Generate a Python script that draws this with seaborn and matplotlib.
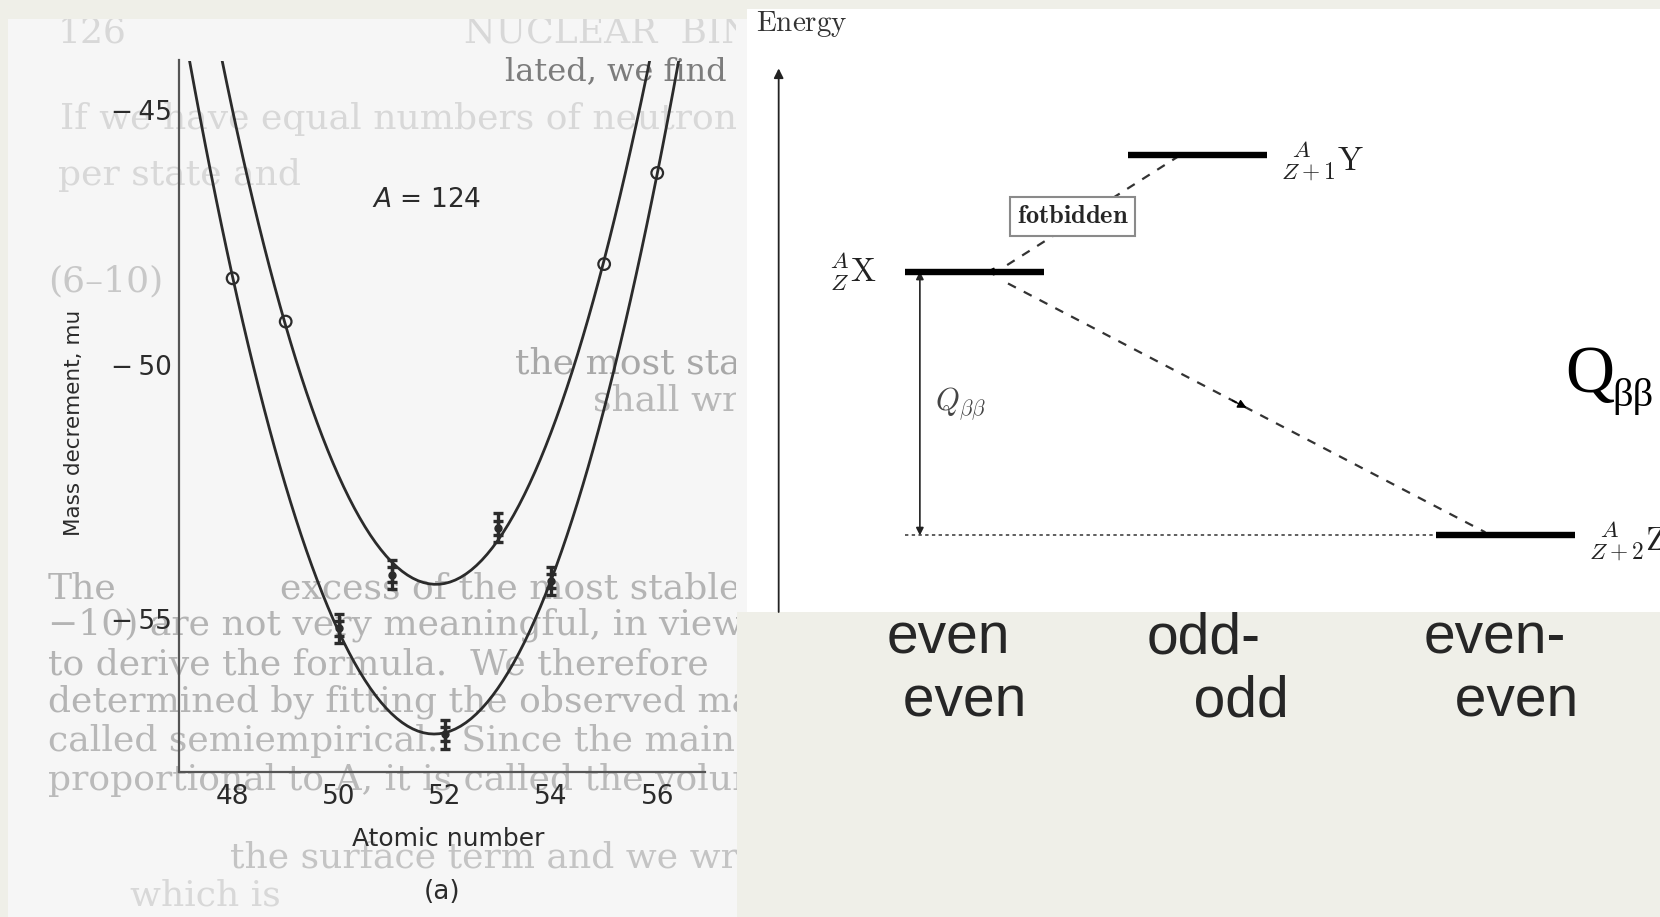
import numpy as np
import pandas as pd
import matplotlib
matplotlib.use("Agg")
import matplotlib.pyplot as plt
from matplotlib.patches import Rectangle
import seaborn as sns

# ---- A = 124 isobars: mass decrement vs atomic number ----
z_even = [48, 50, 52, 54, 56]
m_even = [-48.30, -55.18, -57.26, -54.25, -46.23]
z_odd = [49, 51, 53, 55]
m_odd = [-49.15, -54.12, -53.20, -48.02]
open_z = [48, 49, 55, 56]          # drawn as open circles
stack_z = [50, 51, 52, 53, 54]     # drawn as stacked symbols

x_ticks = [48, 50, 52, 54, 56]
y_ticks = [-45, -50, -55]
y_tick_labels = ["\u2212\u200945", "\u2212\u200950", "\u2212\u200955"]

# ---- double-beta decay level scheme ----
level_names = [r"${}^{A}_{Z}\mathrm{X}$", r"${}^{\;\;A}_{Z+1}\mathrm{Y}$",
               r"${}^{\;\;A}_{Z+2}\mathrm{Z}$"]
level_slot = [1.0, 2.0, 3.38]
level_energy = [1.0, 1.44, 0.0]
parity_labels = ["even\n even", "odd-\n   odd", "even-\n  even"]

# ---- printed page text around the chart (x, y in page pixels, size) ----
FAINT, MID, DARK = "#d8d8d8", "#b4b4b4", "#7c7c7c"
page_lines = [
    (58, 32, "126", FAINT, 26),
    (464, 32, "NUCLEAR  BINDI", FAINT, 26),
    (505, 72, "lated, we find", DARK, 23),
    (60, 119, "If we have equal numbers of neutrons a", FAINT, 26),
    (58, 175, "per state and", FAINT, 26),
    (48, 281, "(6\u201310)", "#c8c8c8", 26),
    (515, 363, "the most stable isobar", "#a8a8a8", 26),
    (593, 400, "shall write", "#b8b8b8", 26),
    (48, 588, "The", MID, 26),
    (280, 588, "excess of the most stable isobar.", MID, 26),
    (48, 625, "\u221210) are not very meaningful, in view", MID, 26),
    (48, 664, "to derive the formula.  We therefore", MID, 26),
    (48, 702, "determined by fitting the observed masses.", MID, 26),
    (48, 741, "called semiempirical.  Since the main", "#b8b8b8", 26),
    (48, 780, "proportional to A, it is called the volume", "#bababa", 26),
    (230, 857, "the surface term and we write", "#c4c4c4", 26),
    (130, 895, "which is", FAINT, 26),
]

W, H = 1660, 917
BEIGE = "#efefe8"
PAGE = "#f6f6f6"
INK = "#2b2b2b"

sns.set_theme(style="white")
plt.rcParams["font.family"] = ["DejaVu Sans"]
plt.rcParams["mathtext.fontset"] = "cm"

fig = plt.figure(figsize=(W / 100, H / 100), dpi=100)
fig.patch.set_facecolor(BEIGE)


def box(x0, y0, x1, y1):
    """Figure-fraction rectangle from a top-left-origin pixel box."""
    return [x0 / W, 1 - y1 / H, (x1 - x0) / W, (y1 - y0) / H]


# scanned page behind the left chart
axP = fig.add_axes(box(8, 19, 737, H))
axP.set_zorder(0)
axP.set_facecolor(PAGE)
axP.set_xlim(8, 737)
axP.set_ylim(H, 19)
axP.set_xticks([])
axP.set_yticks([])
for sp in axP.spines.values():
    sp.set_visible(False)
for px, py, s, c, fs in page_lines:
    axP.text(px, py, s, color=c, fontsize=fs, va="center", ha="left",
             family="DejaVu Serif", clip_on=True)
# strip of page between the chart page and the white sheet
fig.add_artist(Rectangle((736 / W, 1 - 612 / H), 12 / W, (612 - 19) / H,
                         transform=fig.transFigure, facecolor=PAGE,
                         edgecolor="none", zorder=0.5))

# white sheet for the level scheme
fig.add_artist(Rectangle((747 / W, 1 - 612 / H), (W - 747) / W, (612 - 8.5) / H,
                         transform=fig.transFigure, facecolor="white",
                         edgecolor="none", zorder=1.5))

# ---------------- left chart ----------------
axL = fig.add_axes(box(179, 60.5, 705, 772))
axL.set_zorder(1)
axL.set_facecolor("none")
axL.set_xlim(46.99, 56.9)
axL.set_ylim(-58.0, -44.02)

df_even = pd.DataFrame({"Z": z_even, "M": m_even})
df_odd = pd.DataFrame({"Z": z_odd, "M": m_odd})
df_all = pd.concat([df_even, df_odd]).sort_values("Z")

for df in (df_even, df_odd):
    sns.regplot(data=df, x="Z", y="M", order=2, ci=None, scatter=False,
                truncate=False, ax=axL,
                line_kws=dict(color=INK, lw=2.0, solid_capstyle="butt"))

opn = df_all[df_all["Z"].isin(open_z)]
sns.scatterplot(data=opn, x="Z", y="M", ax=axL, marker="o", s=70,
                facecolor="none", edgecolor=INK, linewidth=1.6, zorder=5)

stk = df_all[df_all["Z"].isin(stack_z)]
axL.errorbar(stk["Z"], stk["M"], yerr=0.28, fmt="o", ms=5, color=INK,
             ecolor=INK, elinewidth=2.4, capsize=3.5, capthick=2.4, zorder=5)
axL.errorbar(stk["Z"], stk["M"], yerr=0.14, fmt="none", ecolor=INK,
             elinewidth=2.4, capsize=3.5, capthick=2.4, zorder=5)

axL.set_xlim(46.99, 56.9)
axL.set_ylim(-58.0, -44.02)
axL.set_xticks(x_ticks)
axL.set_yticks(y_ticks)
axL.set_yticklabels(y_tick_labels)
for side in ("top", "right"):
    axL.spines[side].set_visible(False)
for side in ("left", "bottom"):
    axL.spines[side].set_color("#555555")
    axL.spines[side].set_linewidth(1.6)
axL.tick_params(axis="x", direction="in", length=11.5, width=1.5,
                color="#555555", labelsize=19, labelcolor=INK, pad=9)
axL.tick_params(axis="y", direction="in", length=8, width=1.5,
                color="#555555", labelsize=19, labelcolor=INK, pad=5)
axL.set_xlabel("Atomic number", fontsize=18, color=INK)
axL.set_ylabel("Mass decrement, mu", fontsize=15.5, color=INK)
axL.xaxis.set_label_coords(0.511, -0.078)
axL.yaxis.set_label_coords(-0.18, 0.49)
axL.text(51.66, -46.77, r"$A$ = 124", fontsize=19, color=INK,
         ha="center", va="center", math_fontfamily="dejavusans")
fig.text(442 / W, 1 - 892 / H, "(a)", fontsize=19, color=INK,
         ha="center", va="center", zorder=3)

# ---------------- level scheme ----------------
axR = fig.add_axes(box(747, 8.5, W, 612))
axR.set_zorder(2)
axR.set_facecolor("none")
axR.set_xlim(-0.02, 4.073)
axR.set_ylim(-0.29, 1.997)
axR.axis("off")

half = 0.31
axR.hlines(level_energy, [s - half for s in level_slot],
           [s + half for s in level_slot], color="black", lw=4.6, zorder=4)

# level labels
axR.text(level_slot[0] - half - 0.13, level_energy[0], level_names[0],
         fontsize=24, ha="right", va="center", color="#222222")
for i in (1, 2):
    axR.text(level_slot[i] + half + 0.06, level_energy[i] - 0.02, level_names[i],
             fontsize=24, ha="left", va="center", clip_on=False, color="#222222")

# energy axis
axR.annotate("", xy=(0.122, 1.77), xytext=(0.122, -0.29),
             arrowprops=dict(arrowstyle="-|>", lw=1.3, color="#222222",
                             mutation_scale=14, shrinkA=0, shrinkB=0))
axR.text(0.022, 1.94, r"$\mathrm{Energy}$", fontsize=21, ha="left",
         va="center", color="#333333")

# Q value: from X level down to the Z ground state
qx = 0.755
axR.annotate("", xy=(qx, level_energy[2]), xytext=(qx, level_energy[0]),
             arrowprops=dict(arrowstyle="<|-|>", lw=1.2, color="#222222",
                             mutation_scale=11, shrinkA=0, shrinkB=0))
axR.hlines(level_energy[2], level_slot[0] - half, level_slot[2] - half,
           color="#333333", lw=1.1, linestyles=(0, (2.2, 2.2)))
axR.text(qx + 0.18, level_energy[0] / 2, r"$Q_{\beta\beta}$", fontsize=22,
         ha="center", va="center", color="#444444")

# forbidden single-beta path Y <-> X
y0 = (level_slot[1] - 0.08, level_energy[1])
x0 = (level_slot[0] + 0.10, level_energy[0])
axR.plot([y0[0], x0[0]], [y0[1], x0[1]], color="#333333", lw=1.6,
         ls=(0, (4, 4)), zorder=3)
axR.annotate("", xy=(x0[0] - 0.05, x0[1]), xytext=(x0[0] + 0.02, x0[1]),
             arrowprops=dict(arrowstyle="-|>", lw=1.0, color="black",
                             mutation_scale=12, shrinkA=0, shrinkB=0), zorder=5)
mid = ((y0[0] + x0[0]) / 2 - 0.07, (y0[1] + x0[1]) / 2 - 0.01)
axR.text(mid[0], mid[1], r"$\mathbf{fotbidden}$", fontsize=19, ha="center",
         va="center", zorder=6,
         bbox=dict(boxstyle="square,pad=0.25", facecolor="white",
                   edgecolor="#8a8a8a", lw=1.5))

# allowed double-beta path X -> Z
xs = (level_slot[0] + 0.15, level_energy[0] - 0.045)
ze = (level_slot[2] - 0.09, level_energy[2] + 0.012)
axR.plot([xs[0], ze[0]], [xs[1], ze[1]], color="#333333", lw=1.6,
         ls=(0, (4, 4)), zorder=3)
t = 0.47
mx, my = xs[0] + t * (ze[0] - xs[0]), xs[1] + t * (ze[1] - xs[1])
dx, dy = (ze[0] - xs[0]) * 0.03, (ze[1] - xs[1]) * 0.03
axR.annotate("", xy=(mx + dx, my + dy), xytext=(mx, my),
             arrowprops=dict(arrowstyle="-|>", lw=1.0, color="black",
                             mutation_scale=13, shrinkA=0, shrinkB=0))

# big Q label at right
axR.text(3.65, 0.544, "Q", fontsize=49, family="Liberation Serif",
         ha="left", va="baseline", color="black")
axR.text(3.86, 0.49, "\u03b2\u03b2", fontsize=29, family="Liberation Serif",
         ha="left", va="baseline", color="black", clip_on=False)

# parity labels below the scheme
offs = [-0.08, 0.09, -0.02]
for s, lab, o in zip(level_slot, parity_labels, offs):
    axR.text(s + o, -0.51, lab, fontsize=41, family="Liberation Sans",
             ha="center", va="center", multialignment="left",
             linespacing=1.2, clip_on=False)

fig.savefig("out.png", dpi=100, facecolor=fig.get_facecolor())
